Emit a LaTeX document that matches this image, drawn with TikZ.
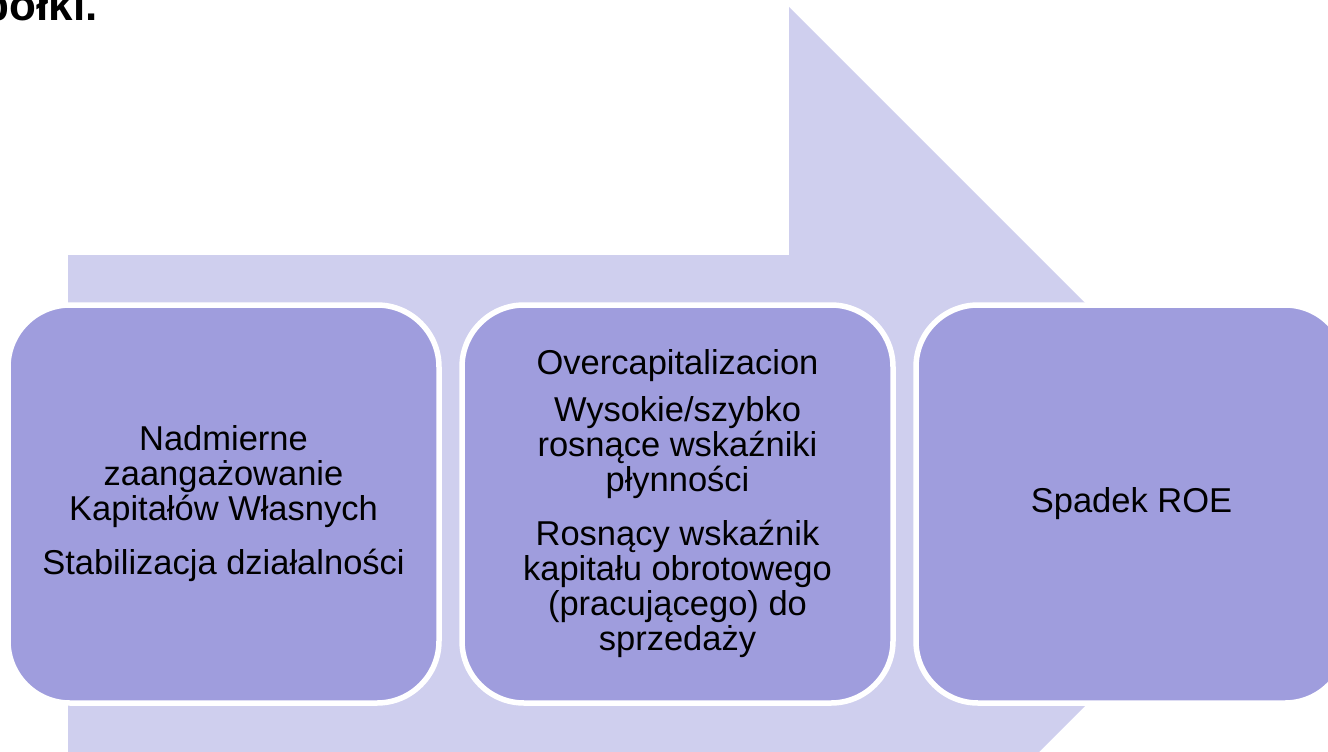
\documentclass[tikz,border=0pt]{standalone}
\usepackage{fontspec}
\setmainfont{Liberation Sans}
\definecolor{arrowfill}{HTML}{CFCFEE}
\definecolor{boxfill}{HTML}{9F9DDD}

\begin{document}
\begin{tikzpicture}[x=1pt,y=-1pt,node distance=454pt,
    phase/.style={rectangle, rounded corners=62pt, fill=boxfill, draw=white,
      line width=5.5pt, minimum width=431pt, minimum height=398pt,
      align=center, font=\fontsize{34.5}{35}\selectfont}]
    \useasboundingbox (0,0) rectangle (1328,752);
    \clip (0,0) rectangle (1328,752);
    % background arrow
    \fill[arrowfill] (68,255) -- (789,255) -- (789,7) -- (1286.5,504.5)
      -- (789,1002) -- (789,754) -- (68,754) -- cycle;
    \node[anchor=base east, font=\fontsize{44}{48}\selectfont\bfseries] (title) at (101,21) {spółki.};
    \node[phase] (b1) at (223.5,504) {Nadmierne\\ zaangażowanie\\ Kapitałów Własnych\\[19pt] Stabilizacja działalności};
    \node[phase] (b2) [right of=b1] {Overcapitalizacion\\[12pt] Wysokie/szybko\\ rosnące wskaźniki\\ płynności\\[19pt] Rosnący wskaźnik\\ kapitału obrotowego\\ (pracującego) do\\ sprzedaży};
    \node[phase] (b3) [right of=b2] {Spadek ROE};
  \end{tikzpicture}
\end{document}
